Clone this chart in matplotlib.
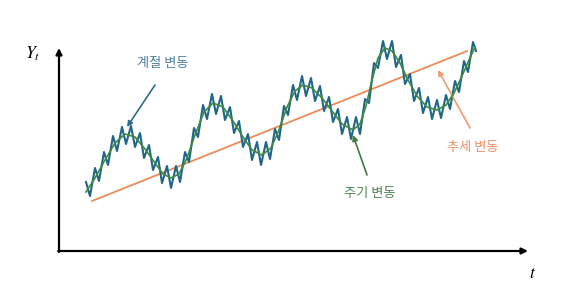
import matplotlib
matplotlib.use("Agg")
import matplotlib.pyplot as plt

plt.rcParams['font.family'] = ['Noto Sans CJK KR', 'DejaVu Sans']
plt.rcParams['mathtext.fontset'] = 'stix'

# Trend (추세 변동)
trend_t = [32, 407]
trend_y = [50, 200]

# Cycle (주기 변동)
cycle_t = [26, 35, 45, 55, 65, 75, 85, 95, 103, 111, 119, 127, 135, 144, 153, 163,
           173, 183, 192, 202, 211, 219, 227, 235, 243, 252, 262, 272, 282, 293, 300,
           306, 312, 318, 325, 332, 340, 348, 357, 367, 377, 386, 394, 402, 409, 415]
cycle_y = [59, 73, 91, 108, 117, 114, 102, 88, 77, 73, 77, 93, 116, 139, 148, 144,
           130, 114, 101, 96, 103, 121, 144, 160, 166, 163, 153, 140, 127, 121, 127,
           145, 171, 193, 203, 200, 188, 171, 155, 144, 141, 146, 158, 175, 191, 204]

# Seasonal (계절 변동)
season_t = [26, 30, 35, 39, 44, 48, 53, 57, 62, 66, 71, 75, 80, 84, 89, 93, 98, 102,
            107, 111, 116, 120, 125, 129, 134, 138, 143, 147, 152, 156, 161, 165, 170,
            174, 179, 183, 188, 192, 197, 201, 206, 210, 215, 219, 224, 228, 233, 237,
            242, 246, 251, 255, 260, 264, 269, 273, 278, 282, 287, 291, 296, 300, 305,
            309, 314, 318, 323, 327, 332, 336, 341, 345, 350, 354, 359, 363, 368, 372,
            377, 381, 386, 390, 395, 399, 404, 408, 413, 416]
season_y = [69, 55, 83, 70, 99, 86, 115, 100, 124, 107, 125, 104, 118, 93, 106, 81, 94, 68,
            85, 63, 85, 69, 99, 89, 123, 114, 146, 132, 157, 137, 155, 131, 144,
            118, 130, 104, 117, 91, 109, 86, 109, 92, 122, 111, 145, 136, 166, 151,
            175, 155, 173, 150, 165, 140, 154, 129, 142, 117, 134, 112, 134, 117, 152,
            148, 188, 183, 210, 192, 210, 184, 196, 167, 177, 150, 163, 138, 154, 132,
            151, 133, 156, 142, 170, 159, 190, 179, 209, 200]

labels = ["계절 변동", "주기 변동", "추세 변동"]

C_SEASON = "#20668a"
C_CYCLE = "#3d8a3d"
C_TREND = "#ef8a55"

fig = plt.figure(figsize=(5.76, 3.03), dpi=100)
ax = fig.add_axes([0, 0, 1, 1])
ax.set_xlim(-60, 516)
ax.set_ylim(-52, 251)
ax.axis('off')

# axes with arrows
ax.annotate("", xy=(-1, 203), xytext=(-1, -1),
            arrowprops=dict(arrowstyle='-|>', lw=1.6, color='black', mutation_scale=9,
                            shrinkA=0, shrinkB=0))
ax.annotate("", xy=(468, 0), xytext=(-1.8, 0),
            arrowprops=dict(arrowstyle='-|>', lw=1.6, color='black', mutation_scale=9,
                            shrinkA=0, shrinkB=0))
ax.text(-27, 197, r"$Y_t$", fontsize=12.5, ha='center', va='center')
ax.text(473, -22, r"$t$", fontsize=12.5, ha='center', va='center')

ax.plot(trend_t, trend_y, color=C_TREND, lw=1.3, zorder=2)
ax.plot(season_t, season_y, color=C_SEASON, lw=1.5, zorder=3, solid_joinstyle='round')
ax.plot(cycle_t, cycle_y, color=C_CYCLE, lw=1.2, zorder=4)

# annotations
ax.annotate("", xy=(67, 124), xytext=(95, 166),
            arrowprops=dict(arrowstyle='-|>', lw=1.2, color="#2f6a8c", mutation_scale=8,
                            shrinkA=0, shrinkB=0))
ax.text(103, 187, labels[0], fontsize=9.5, color="#4f7fa0", ha='center', va='center')

ax.annotate("", xy=(293, 116), xytext=(307, 76),
            arrowprops=dict(arrowstyle='-|>', lw=1.2, color="#3d7a3d", mutation_scale=8,
                            shrinkA=0, shrinkB=0))
ax.text(310, 58, labels[1], fontsize=9.5, color="#4f8452", ha='center', va='center')

ax.annotate("", xy=(378, 181), xytext=(410, 123),
            arrowprops=dict(arrowstyle='-|>', lw=1.2, color="#f09a72", mutation_scale=8,
                            shrinkA=0, shrinkB=0))
ax.text(413, 103, labels[2], fontsize=9.5, color="#ee9068", ha='center', va='center')

fig.savefig("out.png", dpi=100)
